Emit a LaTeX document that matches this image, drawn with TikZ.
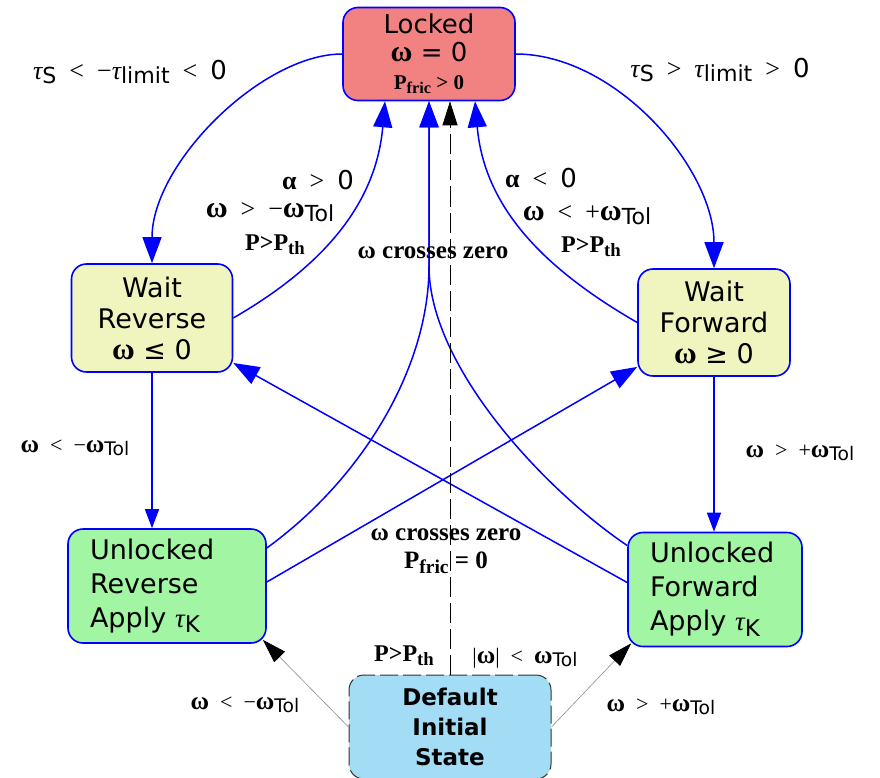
\documentclass[tikz,border=0pt]{standalone}
\usepackage{fontspec}
\setmainfont{Liberation Serif}
\setsansfont{DejaVu Sans}
\usepackage{xcolor}
\definecolor{lockred}{HTML}{F28282}
\definecolor{waityellow}{HTML}{F0F5C0}
\definecolor{unlgreen}{HTML}{A2F5A2}
\definecolor{initblue}{HTML}{A2DCF5}
\definecolor{edgeblue}{HTML}{0000FF}
\usepackage{tikz}
\usetikzlibrary{positioning, arrows.meta, calc}
\newcommand{\omb}{{\rmfamily\bfseries\scalebox{1.15}{ω}}}
\newcommand{\taui}{{\rmfamily\itshape τ}}
\newcommand{\subsf}[1]{\raisebox{-0.35ex}{\scalebox{0.85}{\sffamily #1}}}
\newcommand{\subbf}[1]{\raisebox{-0.4ex}{\scalebox{0.78}{\rmfamily\bfseries #1}}}

\begin{document}
\begin{tikzpicture}[x=1pt, y=1pt]
    \tikzstyle{statenode} = [draw=edgeblue, line width=1.6pt, rounded corners=15pt, align=center, inner sep=0pt, font=\sffamily\fontsize{27}{31}\selectfont]
    \tikzstyle{lockednode} = [statenode, fill=lockred, minimum width=172pt, minimum height=93pt, font=\sffamily\fontsize{26}{28}\selectfont]
    \tikzstyle{waitnode} = [statenode, fill=waityellow]
    \tikzstyle{unlnode} = [statenode, fill=unlgreen, align=left, inner xsep=22pt, minimum height=114pt, font=\sffamily\fontsize{27}{34}\selectfont]
    \tikzstyle{initnode} = [statenode, fill=initblue, draw=black!80, line width=1pt, dash pattern=on 18pt off 5pt, minimum width=202pt, minimum height=104pt, font=\sffamily\bfseries\fontsize{23}{30}\selectfont]
    \tikzstyle{trans} = [edgeblue, line width=1.5pt, -{Triangle[length=26pt, width=19pt]}]
    \tikzstyle{shorttrans} = [trans, -{Triangle[length=19pt, width=14pt]}]
    \tikzstyle{inittrans} = [black!45, line width=0.6pt, -{Triangle[length=24pt, width=15pt, color=black]}]
    \tikzstyle{initdash} = [black, line width=0.8pt, dash pattern=on 20pt off 6pt, -{Triangle[length=24pt, width=15pt]}]
    \tikzstyle{biglabel} = [inner sep=0pt, font=\rmfamily\fontsize{26}{30}\selectfont]
    \tikzstyle{smalllabel} = [inner sep=0pt, font=\rmfamily\fontsize{22}{26}\selectfont]
    \tikzstyle{plabel} = [inner sep=0pt, font=\rmfamily\bfseries\fontsize{24}{28}\selectfont]
    \tikzstyle{zerolabel} = [inner sep=0pt, align=center, font=\rmfamily\bfseries\fontsize{25}{28}\selectfont]

    \useasboundingbox (0,0) rectangle (880,-778);

    % states
    \node [lockednode] (locked) at (429,-54) {Locked\\\omb{} = 0\\{\rmfamily\bfseries\fontsize{21}{21}\selectfont P\subbf{fric} > 0}};
    \node [waitnode, minimum width=161pt, minimum height=108pt] (wrev) at (152,-318) {Wait\\Reverse\\\omb{} ≤ 0};
    \node [waitnode, minimum width=152pt, minimum height=107pt] (wfwd) at (714,-322.5) {Wait\\Forward\\\omb{} ≥ 0};
    \node [unlnode, text width=154pt] (unlrev) at (167,-586) {Unlocked\\Reverse\\Apply \taui\subsf{K}};
    \node [unlnode, text width=130pt] (unlfwd) at (715,-589.5) {Unlocked\\Forward\\Apply \taui\subsf{K}};
    \node [initnode] (init) at (450,-727) {Default\\Initial\\State};
    \coordinate (zc) at ([yshift=-165pt]locked.south);

    % locked -> wait
    \draw [trans] (locked.west) to[out=180, in=90, out distance=80pt, in distance=100pt] (wrev.north);
    \draw [trans] (locked.east) to[out=0, in=90, out distance=100pt, in distance=100pt] (wfwd.north);
    % wait -> locked
    \draw [trans] (wrev.east) to[out=30, in=-95] ([xshift=-44pt]locked.south);
    \draw [trans] (wfwd.west) to[out=150, in=-85] ([xshift=46pt]locked.south);
    % unlocked -> locked
    \draw [trans] ([yshift=38pt]unlrev.east) to[out=36, in=-90, out distance=120pt, in distance=100pt] (zc) -- (locked.south);
    \draw [trans] ([yshift=44pt]unlfwd.west) to[out=146, in=-90, out distance=100pt, in distance=100pt] (zc) -- (locked.south);
    % unlocked -> opposite wait
    \draw [trans] ([yshift=4pt]unlrev.east) -- (wfwd);
    \draw [trans] ([yshift=7pt]unlfwd.west) -- (wrev);
    % wait -> unlocked
    \draw [shorttrans] (wrev.south) -- (wrev.south |- unlrev.north);
    \draw [shorttrans] (wfwd.south) -- (wfwd.south |- unlfwd.north);
    % default initial state
    \draw [initdash] (init.north) -- (init.north |- locked.south);
    \draw [inittrans] (init.west) -- ([shift={(-4pt,4pt)}]unlrev.south east);
    \draw [inittrans] (init.east) -- ([shift={(4pt,4pt)}]unlfwd.south west);

    % labels
    \node [biglabel] (l-lockrev) at (130,-72) {\taui\subsf{S}~~<~~−\taui\subsf{limit}~~<~~\textsf{0}};
    \node [biglabel] (l-lockfwd) at (720,-70) {\taui\subsf{S}~~>~~\taui\subsf{limit}~~>~~\textsf{0}};
    \node [biglabel] (l-alpharev) at (318,-180) {\textbf{α}~~>~~\textsf{0}};
    \node [biglabel] (l-omrev) at (270,-212) {\omb~~>~~−\omb\subsf{Tol}};
    \node [plabel] (l-prev) at (275,-245) {P>P\subbf{th}};
    \node [biglabel] (l-alphafwd) at (541,-178) {\textbf{α}~~<~~\textsf{0}};
    \node [biglabel] (l-omfwd) at (587,-215) {\omb~~<~~+\omb\subsf{Tol}};
    \node [plabel] (l-pfwd) at (591,-247) {P>P\subbf{th}};
    \node [zerolabel] (l-cross) at (433,-253) {ω crosses zero};
    \node [zerolabel] (l-crossfric) at (446,-551) {ω crosses zero\\P\subbf{fric} = 0};
    \node [smalllabel] (l-wrevunl) at (75,-448) {\omb~~<~~−\omb\subsf{Tol}};
    \node [smalllabel] (l-wfwdunl) at (800,-453) {\omb~~>~~+\omb\subsf{Tol}};
    \node [plabel] (l-pinit) at (404,-656) {P>P\subbf{th}};
    \node [smalllabel] (l-ominit) at (525,-658) {|\omb|~~<~~\omb\subsf{Tol}};
    \node [smalllabel] (l-initrev) at (245,-705) {\omb~~<~~−\omb\subsf{Tol}};
    \node [smalllabel] (l-initfwd) at (661,-707) {\omb~~>~~+\omb\subsf{Tol}};
\end{tikzpicture}
\end{document}
